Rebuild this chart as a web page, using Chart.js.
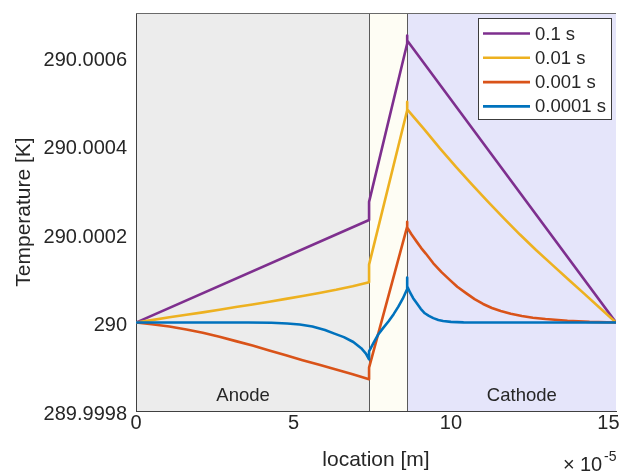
<!DOCTYPE html>
<html>
<head>
<meta charset="utf-8">
<script src="https://cdn.jsdelivr.net/npm/chart.js@4/dist/chart.umd.min.js"></script>
<style>
  html, body { margin: 0; padding: 0; background: #ffffff; }
  canvas { display: block; }
</style>
</head>
<body>
<canvas id="c" width="621" height="474"></canvas>
<script>
// ---- data (x in units of 1e-5 m, temperature in K) ----
const seriesLabels = ['0.1 s', '0.01 s', '0.001 s', '0.0001 s'];
const seriesColors = ['#7E2F8E', '#EDB120', '#D95319', '#0072BD'];

const x_01 = [0, 7.4, 7.4, 8.61, 8.61, 8.61, 15.24];
const T_01 = [290, 290.000232, 290.000273, 290.000631, 290.000649, 290.000638, 290];

const x_001 = [0, 0.5, 1.06, 1.6, 2.12, 2.65, 3.17, 3.7, 4.23, 4.76, 5.29, 5.82, 6.35, 6.88, 7.4,
               7.4, 8.61, 8.61, 8.61,
               9.14, 9.65, 10.16, 10.67, 11.18, 11.69, 12.19, 12.7, 13.21, 13.72, 14.22, 14.73, 15.24];
const T_001 = [290, 290.0000055, 290.000012, 290.0000175, 290.000023, 290.000029, 290.000035, 290.000041, 290.000047, 290.0000535, 290.00006, 290.000067, 290.000074, 290.000082, 290.000091,
               290.000131, 290.00048, 290.000499, 290.000482,
               290.000438, 290.000394, 290.000352, 290.000312, 290.000273, 290.000235, 290.000199, 290.000164, 290.000131, 290.000098, 290.000066, 290.000033, 290];

const x_0001 = [0, 0.5, 1.06, 1.6, 2.12, 2.65, 3.17, 3.7, 4.23, 4.76, 5.29, 5.82, 6.35, 6.88, 7.4,
                7.4, 8.61, 8.61, 8.61,
                8.75, 8.91, 9.05, 9.2, 9.44, 9.7, 9.97, 10.2, 10.49, 10.75, 11.02, 11.3, 11.58, 11.9, 12.25, 12.6, 13.0, 13.7, 14.4, 15.24];
const T_0001 = [290, 289.999996, 289.999991, 289.9999845, 289.999977, 289.999968, 289.999958, 289.999948, 289.999937, 289.999926, 289.999915, 289.9999045, 289.999894, 289.999883, 289.999872,
                289.999898, 290.000217, 290.000228, 290.000215,
                290.000199, 290.000183, 290.000169, 290.000156, 290.000134, 290.000114, 290.000096, 290.000081, 290.000066, 290.000053, 290.000042, 290.000033, 290.000026, 290.00002, 290.000015, 290.000011, 290.000008, 290.000004, 290.0000015, 290];

const x_00001 = [0, 3.56, 4.3, 4.8, 5.2, 5.6, 6.0, 6.3, 6.6, 6.9, 7.15, 7.3, 7.4,
                 7.4, 7.55, 7.69, 7.85, 8.02, 8.18, 8.33, 8.47, 8.61, 8.61, 8.61,
                 8.7, 8.8, 8.91, 9.04, 9.17, 9.3, 9.44, 9.6, 9.75, 10.0, 10.4, 11.2, 15.24];
const T_00001 = [290, 290, 289.9999995, 289.999998, 289.9999955, 289.999991, 289.999983, 289.999975, 289.999967, 289.999956, 289.999942, 289.99993, 289.999917,
                 289.999935, 289.999955, 289.999973, 289.999988, 290.000003, 290.000019, 290.000036, 290.000054, 290.000076, 290.000102, 290.000082,
                 290.000068, 290.000055, 290.000044, 290.000031, 290.000021, 290.000015, 290.00001, 290.000006, 290.0000035, 290.0000015, 290.0000005, 290, 290];

const seriesX = [x_01, x_001, x_0001, x_00001];
const seriesT = [T_01, T_001, T_0001, T_00001];

// regions: boundaries (1e-5 m), names, label positions
const regionBounds = [0, 7.4, 8.61, 15.24];
const regionColors = ['#ececec', '#fefdf4', '#e5e5fa'];
const regionNames = ['Anode', 'Cathode'];
const regionLabelX = [3.4, 12.25];
const regionLabelT = [289.999834, 289.999834];

const xTicks = [0, 5, 10, 15];
const xTickLabels = ['0', '5', '10', '15'];
const yTicks = [289.9998, 290, 290.0002, 290.0004, 290.0006];
const yTickLabels = ['289.9998', '290', '290.0002', '290.0004', '290.0006'];
const xMin = 0, xMax = 15.24;
const yMin = 289.9998, yMax = 290.0007;

// ---- build chart ----
const FONT = "'Liberation Sans', Arial, Helvetica, sans-serif";
const TXT = '#262626';

const datasets = seriesLabels.map((lab, i) => ({
  label: lab,
  data: seriesX[i].map((xv, j) => ({x: xv, y: seriesT[i][j]})),
  borderColor: seriesColors[i],
  backgroundColor: seriesColors[i],
  borderWidth: 2.6,
  borderJoinStyle: 'round',
  pointRadius: 0,
  tension: 0,
  fill: false,
  order: seriesLabels.length - 1 - i
}));

const regionPlugin = {
  id: 'regions',
  beforeDraw(chart) {
    const {ctx, chartArea: a, scales: {x}} = chart;
    ctx.save();
    for (let i = 0; i < regionColors.length; i++) {
      const x0 = x.getPixelForValue(regionBounds[i]);
      const x1 = x.getPixelForValue(regionBounds[i + 1]);
      ctx.fillStyle = regionColors[i];
      ctx.fillRect(x0, a.top, x1 - x0, a.bottom - a.top);
    }
    ctx.restore();
  },
  beforeDatasetsDraw(chart) {
    const {ctx, chartArea: a, scales: {x, y}} = chart;
    ctx.save();
    ctx.strokeStyle = '#5a5a5a';
    ctx.lineWidth = 1;
    for (let i = 1; i < regionBounds.length - 1; i++) {
      const px = Math.round(x.getPixelForValue(regionBounds[i])) + 0.5;
      ctx.beginPath();
      ctx.moveTo(px, a.top);
      ctx.lineTo(px, a.bottom);
      ctx.stroke();
    }
    ctx.fillStyle = TXT;
    ctx.font = '18.5px ' + FONT;
    ctx.textAlign = 'center';
    ctx.textBaseline = 'middle';
    for (let i = 0; i < regionNames.length; i++) {
      ctx.fillText(regionNames[i], x.getPixelForValue(regionLabelX[i]), y.getPixelForValue(regionLabelT[i]));
    }
    ctx.restore();
  },
  afterDraw(chart) {
    const {ctx, chartArea: a} = chart;
    ctx.save();
    // top box line
    ctx.strokeStyle = '#6a6a6a';
    ctx.lineWidth = 1;
    ctx.beginPath();
    ctx.moveTo(a.left, a.top + 0.5);
    ctx.lineTo(a.right, a.top + 0.5);
    ctx.stroke();
    // legend
    const bw = 133, bh = 101;
    const bx = a.right - 5 - bw, by = a.top + 5;
    ctx.fillStyle = '#ffffff';
    ctx.fillRect(bx, by, bw, bh);
    ctx.strokeStyle = '#3c3c3c';
    ctx.strokeRect(bx + 0.5, by + 0.5, bw, bh);
    ctx.font = '18.5px ' + FONT;
    ctx.textAlign = 'left';
    ctx.textBaseline = 'middle';
    chart.data.datasets.forEach((ds, i) => {
      const ry = by + 15.5 + i * 24.3;
      ctx.strokeStyle = ds.borderColor;
      ctx.lineWidth = 2.6;
      ctx.beginPath();
      ctx.moveTo(bx + 5, ry);
      ctx.lineTo(bx + 52, ry);
      ctx.stroke();
      ctx.fillStyle = TXT;
      ctx.fillText(ds.label, bx + 57, ry + 1);
    });
    // exponent label
    ctx.fillStyle = TXT;
    ctx.textBaseline = 'alphabetic';
    ctx.font = '20px ' + FONT;
    ctx.fillText('\u00d7', 563, 471);
    ctx.fillText('10', 580, 471);
    ctx.font = '14px ' + FONT;
    ctx.fillText('-5', 604, 461);
    ctx.restore();
  }
};

new Chart(document.getElementById('c'), {
  type: 'line',
  data: { datasets },
  plugins: [regionPlugin],
  options: {
    responsive: false,
    animation: false,
    events: [],
    layout: { padding: { left: 0, right: 5, top: 13, bottom: 0 } },
    plugins: { legend: { display: false }, tooltip: { enabled: false }, title: { display: false } },
    scales: {
      x: {
        type: 'linear',
        min: xMin, max: xMax,
        afterBuildTicks: s => { s.ticks = xTicks.map(v => ({ value: v })); },
        afterFit: s => { s.height = 63; s.paddingLeft = 0; s.paddingRight = 0; },
        grid: { display: false, drawTicks: false },
        border: { display: true, color: '#404040', width: 1 },
        ticks: {
          autoSkip: false, maxRotation: 0, padding: 0,
          color: TXT, font: { family: FONT, size: 20 },
          callback: v => { const k = xTicks.indexOf(v); return k >= 0 ? xTickLabels[k] : ''; }
        },
        title: {
          display: true, text: 'location [m]', color: TXT,
          font: { family: FONT, size: 21, lineHeight: 1 },
          padding: { top: 0, bottom: 3.5 }
        }
      },
      y: {
        type: 'linear',
        min: yMin, max: yMax,
        afterBuildTicks: s => { s.ticks = yTicks.map(v => ({ value: v })); },
        afterFit: s => { s.width = 136; s.paddingTop = 0; s.paddingBottom = 0; },
        grid: { display: false, drawTicks: false },
        border: { display: true, color: '#404040', width: 1 },
        ticks: {
          autoSkip: false, padding: 9, labelOffset: 3,
          color: TXT, font: { family: FONT, size: 20 },
          callback: v => { let k = -1; yTicks.forEach((t, i) => { if (Math.abs(t - v) < 1e-9) k = i; }); return k >= 0 ? yTickLabels[k] : ''; }
        },
        title: {
          display: true, text: 'Temperature [K]', color: TXT,
          font: { family: FONT, size: 21, lineHeight: 1 },
          padding: { top: 13.5, bottom: 0 }
        }
      }
    }
  }
});
</script>
</body>
</html>
